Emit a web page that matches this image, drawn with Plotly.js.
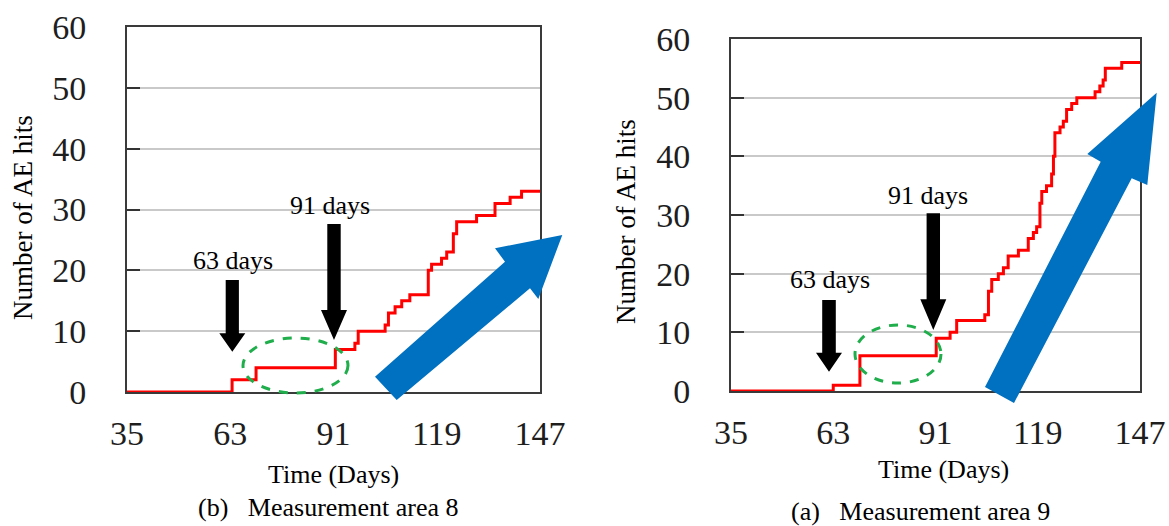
<!DOCTYPE html>
<html>
<head>
<meta charset="utf-8">
<script src="https://cdn.plot.ly/plotly-3.0.1.min.js"></script>
<style>
  html, body { margin: 0; padding: 0; background: #fff; }
  #chart { width: 1169px; height: 526px; }
</style>
</head>
<body>
<div id="chart"></div>
<script>
// ---- Data ----
// (b) Measurement area 8 : cumulative AE hits (step line)
const area8Days = [35, 63.5, 70, 91.5, 96.8, 97.7, 105, 105.9, 107.7, 109.5, 111.7, 116.7, 117.6, 120.3, 121.7, 123.5, 124.4, 129.8, 134.8, 138.9, 142, 147];
const area8Hits = [0, 2, 4, 7, 8, 10, 11, 13, 14, 15, 16, 20, 21, 22, 23, 26, 28, 29, 31, 32, 33, 33];

// (a) Measurement area 9 : cumulative AE hits (step line)
const area9Days = [35, 63, 70.3, 91.2, 95, 96.8, 104.5, 105.5, 106.4, 108.2, 109.6, 110.9, 113.7, 116.4, 117.8, 118.7, 119.6, 120.1, 121.4, 122.8, 123.3, 123.7, 125.1, 126, 126.9, 128.3, 129.7, 134.7, 136, 136.9, 137.5, 142, 147];
const area9Hits = [0, 1, 6, 9, 10, 12, 13, 17, 19, 20, 21, 23, 24, 26, 27, 28, 32, 34, 35, 37, 40, 44, 45, 46, 48, 49, 50, 51, 52, 53, 55, 56, 56];

const xTickVals = [35, 63, 91, 119, 147];
const xTickText = ['35', '63', '91', '119', '147'];
const yTickVals = [0, 10, 20, 30, 40, 50, 60];

const xTitle = 'Time (Days)';
const yTitle = 'Number of AE hits';
const captionLeft = '(b)\u00a0\u00a0 Measurement area 8';
const captionRight = '(a)\u00a0\u00a0 Measurement area 9';
const label63 = '63 days';
const label91 = '91 days';

// ---- Layout helpers ----
const W = 1169, H = 526;
const FONT = '"Liberation Serif", "Times New Roman", serif';
const px = x => x / W;
const py = y => 1 - y / H;
function poly(pts) {
  return 'M' + pts.map(p => px(p[0]).toFixed(5) + ',' + py(p[1]).toFixed(5)).join(' L') + ' Z';
}
function downArrow(cx, top, headTop, tip, sh, hh) {
  return poly([[cx - sh, top], [cx + sh, top], [cx + sh, headTop], [cx + hh, headTop],
               [cx, tip], [cx - hh, headTop], [cx - sh, headTop]]);
}

const traces = [
  { x: area8Days, y: area8Hits, xaxis: 'x', yaxis: 'y', type: 'scatter', mode: 'lines',
    line: { shape: 'hv', color: '#ff0000', width: 3 }, hoverinfo: 'skip', showlegend: false },
  { x: area9Days, y: area9Hits, xaxis: 'x2', yaxis: 'y2', type: 'scatter', mode: 'lines',
    line: { shape: 'hv', color: '#ff0000', width: 3 }, hoverinfo: 'skip', showlegend: false }
];

function xAxis(domain, anchor) {
  return {
    domain: domain, anchor: anchor, range: [35, 147], tickmode: 'array',
    tickvals: xTickVals, ticktext: xTickText, ticks: '', showgrid: false, zeroline: false,
    showline: true, mirror: true, linecolor: '#3a3a3a', linewidth: 2,
    ticklabelstandoff: 10,
    tickfont: { family: FONT, size: 34, color: '#1e1e1e' }
  };
}
function yAxis(domain, anchor) {
  return {
    domain: domain, anchor: anchor, range: [0, 60], tickmode: 'array', tickvals: yTickVals,
    ticks: 'inside', ticklen: 13, tickwidth: 2, tickcolor: '#333',
    showgrid: true, gridcolor: '#c9c9c9', gridwidth: 2, zeroline: false,
    showline: true, mirror: true, linecolor: '#3a3a3a', linewidth: 2,
    ticklabelstandoff: 32,
    tickfont: { family: FONT, size: 34, color: '#1e1e1e' }
  };
}

const BLUE = '#0070c0';
const GREEN = '#1fae4b';

const shapes = [
  // left green ellipse
  { type: 'circle', xref: 'paper', yref: 'paper', x0: px(243), x1: px(348), y0: py(393), y1: py(338),
    line: { color: GREEN, width: 3, dash: 'dash' }, layer: 'above' },
  // right green ellipse
  { type: 'circle', xref: 'paper', yref: 'paper', x0: px(855), x1: px(941), y0: py(383), y1: py(325),
    line: { color: GREEN, width: 3, dash: 'dash' }, layer: 'above' },
  // left black arrows
  { type: 'path', xref: 'paper', yref: 'paper', path: downArrow(232.3, 280, 333.3, 351.7, 6.6, 13),
    fillcolor: '#000', line: { width: 0 }, layer: 'above' },
  { type: 'path', xref: 'paper', yref: 'paper', path: downArrow(334, 224, 310, 340, 6.7, 13),
    fillcolor: '#000', line: { width: 0 }, layer: 'above' },
  // right black arrows
  { type: 'path', xref: 'paper', yref: 'paper', path: downArrow(829, 300, 352.7, 371.7, 6.8, 13),
    fillcolor: '#000', line: { width: 0 }, layer: 'above' },
  { type: 'path', xref: 'paper', yref: 'paper', path: downArrow(933.3, 213.3, 299.3, 330, 6.7, 13),
    fillcolor: '#000', line: { width: 0 }, layer: 'above' },
  // left blue arrow
  { type: 'path', xref: 'paper', yref: 'paper',
    path: poly([[375, 376.7], [505, 261.7], [495, 248.3], [562.3, 235], [538.3, 299], [530, 288.3], [396.7, 400]]),
    fillcolor: BLUE, line: { width: 0 }, layer: 'above' },
  // right blue arrow
  { type: 'path', xref: 'paper', yref: 'paper',
    path: poly([[985, 387], [1100.7, 161.7], [1087.3, 154], [1156.7, 92.7], [1147.3, 185], [1131.7, 178.3], [1014, 403]]),
    fillcolor: BLUE, line: { width: 0 }, layer: 'above' }
];

function txt(text, x, y, size, extra) {
  return Object.assign({ text: text, xref: 'paper', yref: 'paper', x: px(x), y: py(y),
    xanchor: 'center', yanchor: 'middle', showarrow: false,
    font: { family: FONT, size: size, color: '#000' } }, extra || {});
}

const annotations = [
  txt(label63, 233, 260, 26),
  txt(label91, 330, 205, 26),
  txt(label63, 830, 279, 26),
  txt(label91, 928, 195, 26),
  txt(xTitle, 333, 474, 26),
  txt(xTitle, 943, 469, 26),
  txt(yTitle, 23, 218, 27, { textangle: -90 }),
  txt(yTitle, 626, 222, 27, { textangle: -90 }),
  txt(captionLeft, 328, 507, 26),
  txt(captionRight, 920, 511, 26)
];

const layout = {
  width: W, height: H, autosize: false,
  margin: { l: 0, r: 0, t: 0, b: 0, pad: 0 },
  paper_bgcolor: '#fff', plot_bgcolor: '#fff',
  showlegend: false,
  xaxis: xAxis([127 / W, 540 / W], 'y'),
  yaxis: yAxis([(H - 392) / H, (H - 27) / H], 'x'),
  xaxis2: xAxis([731 / W, 1140 / W], 'y2'),
  yaxis2: yAxis([(H - 391) / H, (H - 39) / H], 'x2'),
  shapes: shapes,
  annotations: annotations
};

Plotly.newPlot('chart', traces, layout, { staticPlot: true, displayModeBar: false });
</script>
</body>
</html>
